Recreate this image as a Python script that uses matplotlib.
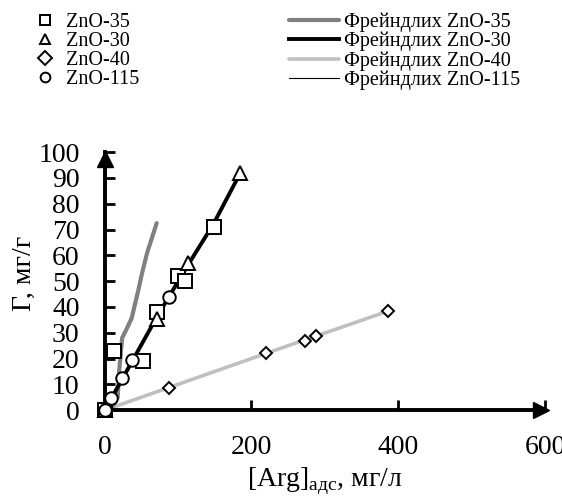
import matplotlib
matplotlib.use("Agg")
import matplotlib.pyplot as plt
from matplotlib.lines import Line2D

plt.rcParams['font.family'] = ['Liberation Serif', 'DejaVu Serif']
plt.rcParams['mathtext.fontset'] = 'custom'
plt.rcParams['mathtext.rm'] = 'Liberation Serif'

# experimental points: [Arg]_ads (mg/l), Gamma (mg/g)
zno35_x = [0, 13, 52, 72, 100, 110, 149]
zno35_y = [0, 23, 19, 38, 52, 50, 71]
zno30_x = [0, 71, 113, 185]
zno30_y = [0, 35.5, 57, 92]
zno40_x = [0, 88, 220, 273, 288, 386]
zno40_y = [0, 8.6, 22, 27, 28.7, 38.4]
zno115_x = [0, 9, 24, 38, 88]
zno115_y = [0, 4.7, 12.4, 19.4, 44]

# Freundlich fits
fr35_x = [0, 10, 18, 20, 24, 31, 37, 46, 51, 58, 71]
fr35_y = [0, 1, 5, 15.5, 28, 32, 35.7, 46.5, 53, 61, 72.5]
fr30_x = [0, 24, 71, 113, 148, 185]
fr30_y = [0, 12, 36, 56, 72, 92]
fr40_x = [0, 88, 220, 273, 288, 386]
fr40_y = [0, 8.8, 22, 27.3, 28.7, 38.4]
fr115_x = [0, 9, 24, 38, 88]
fr115_y = [0, 4.6, 12.2, 19.4, 44]

fig = plt.figure(figsize=(5.62, 4.99), dpi=100)
ax = fig.add_axes([0.186, 0.178, 0.784, 0.517])

ax.plot(fr40_x, fr40_y, color='#c0c0c0', lw=2.6, solid_capstyle='round', label='Фрейндлих ZnO-40')
ax.plot(fr35_x, fr35_y, color='#808080', lw=3.0, solid_capstyle='round', label='Фрейндлих ZnO-35')
ax.plot(fr115_x, fr115_y, color='black', lw=0.8, label='Фрейндлих ZnO-115')
ax.plot(fr30_x, fr30_y, color='black', lw=2.8, label='Фрейндлих ZnO-30')

mk = dict(ls='none', mfc='white', mec='black', mew=1.4, clip_on=False, zorder=5)
ax.plot(zno35_x, zno35_y, marker='s', ms=9.5, label='ZnO-35', **mk)
ax.plot(zno30_x, zno30_y, marker='^', ms=10, label='ZnO-30', **mk)
ax.plot(zno40_x, zno40_y, marker='D', ms=6.5, label='ZnO-40', **mk)
ax.plot(zno115_x, zno115_y, marker='o', ms=9, label='ZnO-115', **mk)

ax.set_xlim(0, 600)
ax.set_ylim(0, 100)
ax.set_xticks([0, 200, 400, 600])
ax.set_yticks(range(0, 101, 10))
for s in ['top', 'right']:
    ax.spines[s].set_visible(False)
for s in ['left', 'bottom']:
    ax.spines[s].set_linewidth(2.8)
ax.tick_params(direction='in', length=7, width=2, labelsize=20)
ax.tick_params(axis='y', pad=18)
ax.tick_params(axis='x', pad=18)

# arrow heads on the axes
ax.plot(0.99, 0, marker='>', ms=12, color='black', transform=ax.transAxes, clip_on=False, zorder=6)
ax.plot(0, 0.975, marker='^', ms=12, color='black', transform=ax.transAxes, clip_on=False, zorder=6)

ax.set_xlabel('[Arg]$_{\\mathrm{адс}}$, мг/л', fontsize=20, labelpad=4)
ax.set_ylabel('Г, мг/г', fontsize=20)
ax.yaxis.set_label_coords(-0.153, 0.53)

h, l = ax.get_legend_handles_labels()
lab = dict(zip(l, h))
pts = ['ZnO-35', 'ZnO-30', 'ZnO-40', 'ZnO-115']
fits = ['Фрейндлих ZnO-35', 'Фрейндлих ZnO-30', 'Фрейндлих ZnO-40', 'Фрейндлих ZnO-115']
pt_handles = [Line2D([], [], ls='none', marker=lab[p].get_marker(), ms=7, mfc='white',
                     mec='black', mew=1.4) for p in pts]
fig.legend(pt_handles, pts, loc='upper left', bbox_to_anchor=(0.063, 0.975), frameon=False,
           fontsize=14.5, handlelength=1.0, handletextpad=0.5, labelspacing=0.0,
           borderpad=0, borderaxespad=0)
fig.legend([lab[f] for f in fits], fits, loc='upper left', bbox_to_anchor=(0.514, 0.975),
           frameon=False, fontsize=14.5, handlelength=2.5, handletextpad=0.25,
           labelspacing=0.0, borderpad=0, borderaxespad=0)

fig.savefig('out.png', dpi=100)
